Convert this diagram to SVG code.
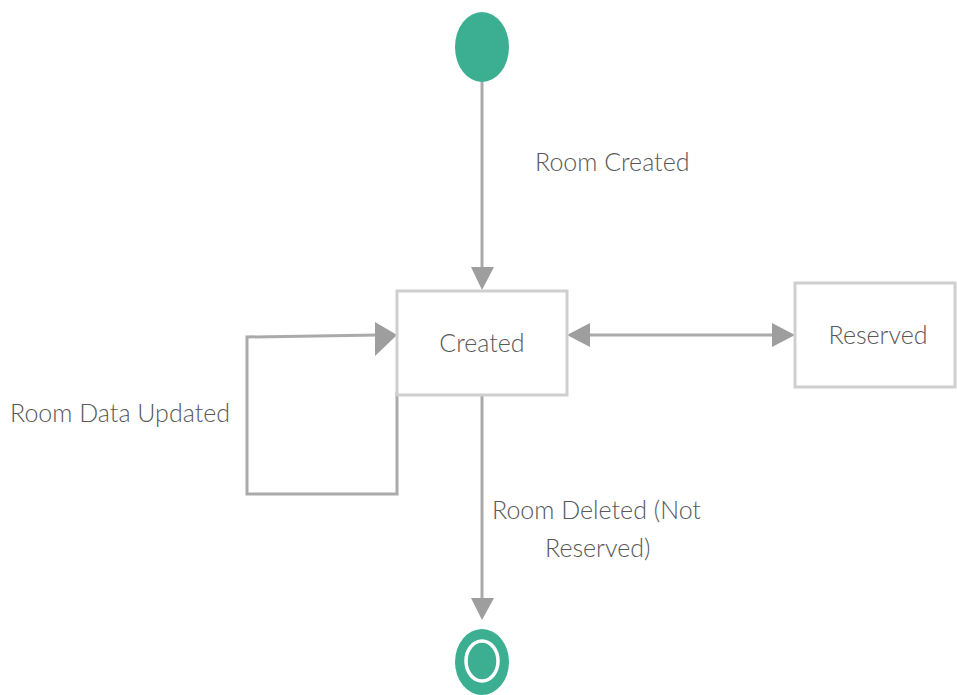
<svg xmlns="http://www.w3.org/2000/svg" width="957" height="695" viewBox="0 0 957 695">
<style>
.box{fill:#fff;stroke:#cfcfcf;stroke-width:3}
.edge{fill:none;stroke:#aaaaaa;stroke-width:3}
.head{fill:#9e9e9e}
.lbl{font-family:Lato,"Open Sans","Liberation Sans",sans-serif;font-size:25px;fill:#585858;font-weight:300}
</style>
<rect width="957" height="695" fill="#fff"/>
<g id="connectors">
<line class="edge" x1="482" y1="80" x2="482" y2="270"/>
<polygon class="head" points="471,267 494,267 482,290"/>
<line class="edge" x1="588" y1="335" x2="775" y2="335"/>
<polygon class="head" points="567,335 590,323 590,347"/>
<polygon class="head" points="795,335 772,323 772,347"/>
<polyline class="edge" points="397,392 397,494 247,494 247,337 378,335"/>
<polygon class="head" points="397,335 375,322 375,356"/>
<line class="edge" x1="482" y1="396" x2="482" y2="600"/>
<polygon class="head" points="471,598 494,598 482,620"/>
<text class="lbl" x="535" y="171">Room Created</text>
<text class="lbl" x="10" y="422">Room Data Updated</text>
<text class="lbl" x="492" y="519">Room Deleted (Not</text>
<text class="lbl" x="545" y="557">Reserved)</text>
</g>
<g id="start">
<ellipse cx="482" cy="47" rx="27" ry="35" fill="#3caf92"/>
</g>
<g id="created">
<rect class="box" x="397" y="291" width="170" height="104"/>
<text class="lbl" x="482" y="352" text-anchor="middle">Created</text>
</g>
<g id="reserved">
<rect class="box" x="795" y="283" width="160" height="104"/>
<text class="lbl" x="878" y="344" text-anchor="middle">Reserved</text>
</g>
<g id="end">
<ellipse cx="482" cy="662" rx="27" ry="33" fill="#3caf92"/>
<ellipse cx="482" cy="661" rx="16" ry="20" fill="none" stroke="#fff" stroke-width="3.5"/>
</g>
</svg>
